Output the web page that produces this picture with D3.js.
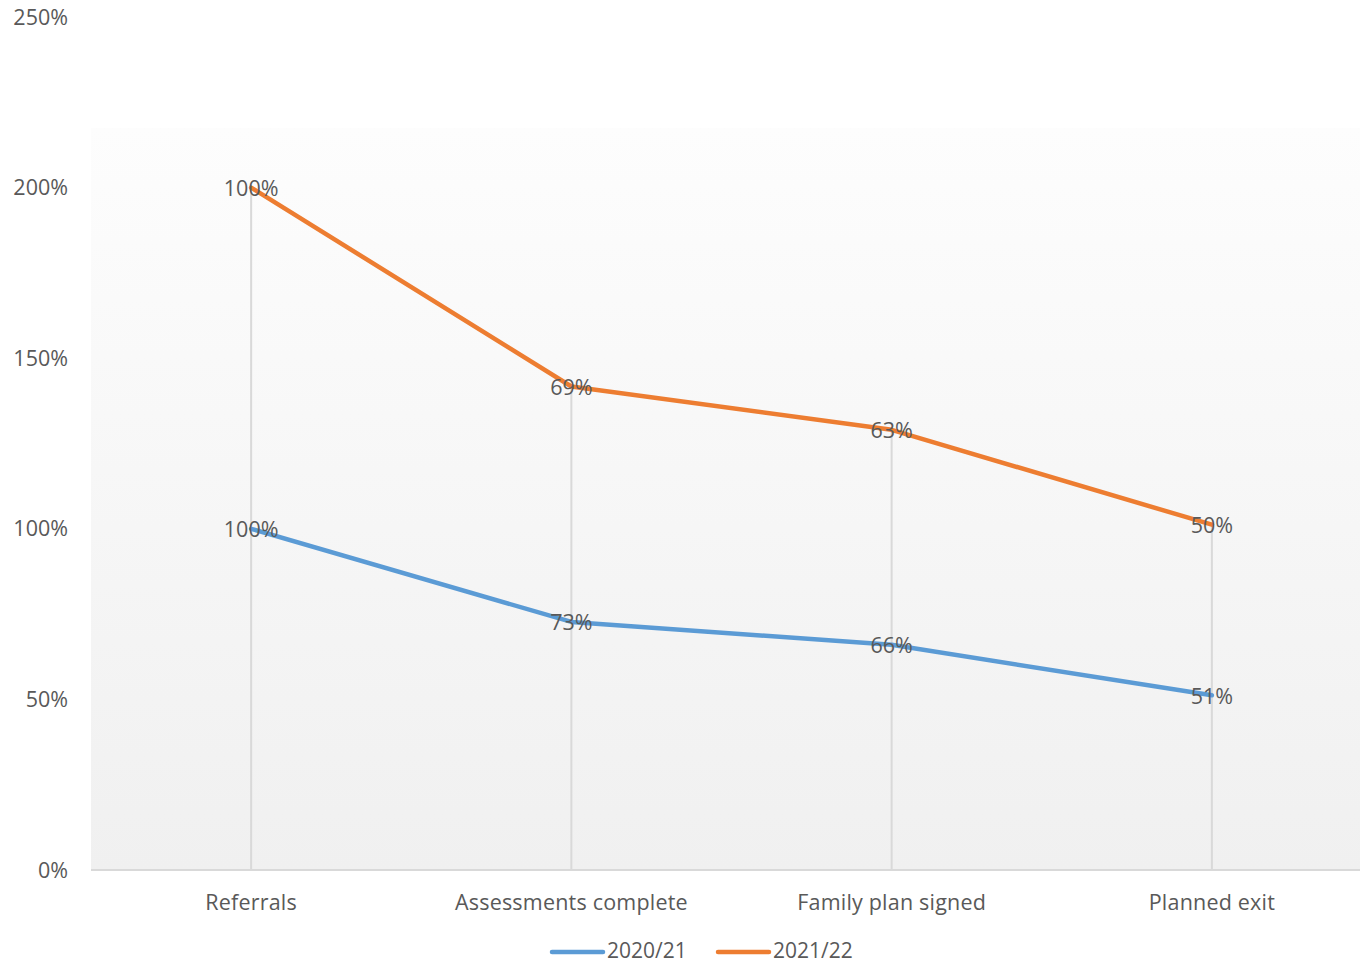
<!DOCTYPE html>
<html><head><meta charset="utf-8">
<script src="https://cdn.jsdelivr.net/npm/d3@7"></script>
<style>
html,body{margin:0;padding:0;background:#fff;}
svg text{font-family:"Open Sans","Noto Sans",sans-serif;fill:#595959;}
</style></head>
<body><svg id="c" width="1360" height="966"></svg>
<script>
const categories = ["Referrals","Assessments complete","Family plan signed","Planned exit"];
const series2020 = [100, 72.7, 66, 51.2];
const series2021 = [100, 69, 63, 50];
const labels2020 = ["100%","73%","66%","51%"];
const labels2021 = ["100%","69%","63%","50%"];
const seriesNames = ["2020/21","2021/22"];
const seriesColors = ["#5b9bd5","#ed7d31"];
const yTicks = [0,50,100,150,200,250];

const svg = d3.select("#c");
const plotL = 91, plotR = 1372, plotRight = 1360;
const FS = 21.5;
const y = d3.scaleLinear().domain([0,250]).range([870,17]);
const x = d3.scaleBand().domain(categories).range([plotL, plotR]);
const cx = d => x(d) + x.bandwidth()/2;

// gradient panel
const defs = svg.append("defs");
const g = defs.append("linearGradient").attr("id","bg").attr("x1",0).attr("y1",0).attr("x2",0).attr("y2",1);
g.append("stop").attr("offset","0%").attr("stop-color","#fdfdfd");
g.append("stop").attr("offset","100%").attr("stop-color","#f0f0f0");
svg.append("rect").attr("x",plotL).attr("y",128).attr("width",plotRight-plotL).attr("height",870-128).attr("fill","url(#bg)");

// stacked totals
const stacked1 = series2020;
const stacked2 = series2020.map((v,i)=>v+series2021[i]);

// drop lines
svg.selectAll(".drop").data(categories).enter().append("line")
  .attr("x1",d=>cx(d)).attr("x2",d=>cx(d))
  .attr("y1",(d,i)=>y(stacked2[i])).attr("y2",y(0))
  .attr("stroke","#d9d9d9").attr("stroke-width",2);

// baseline
svg.append("line").attr("x1",plotL).attr("x2",plotRight).attr("y1",y(0)).attr("y2",y(0))
  .attr("stroke","#d9d9d9").attr("stroke-width",2);

// y axis labels
svg.selectAll(".yt").data(yTicks).enter().append("text")
  .attr("x",68).attr("y",d=>y(d)).attr("dy","0.35em").attr("text-anchor","end")
  .attr("font-size",FS).text(d=>d+"%");

// x labels
svg.selectAll(".xt").data(categories).enter().append("text")
  .attr("x",d=>cx(d)).attr("y",902).attr("dy","0.35em").attr("text-anchor","middle")
  .attr("font-size",FS).attr("letter-spacing","0.2").text(d=>d);

const line = d3.line().x((d,i)=>cx(categories[i])).y(d=>y(d));
[stacked1, stacked2].forEach((s,k)=>{
  svg.append("path").datum(s).attr("d",line).attr("fill","none")
    .attr("stroke",seriesColors[k]).attr("stroke-width",4.5).attr("stroke-linecap","round").attr("stroke-linejoin","round");
});
// data labels
[[stacked1,labels2020],[stacked2,labels2021]].forEach(([s,l])=>{
  svg.selectAll(null).data(s).enter().append("text")
    .attr("x",(d,i)=>cx(categories[i])).attr("y",d=>y(d)+1).attr("dy","0.35em")
    .attr("text-anchor","middle").attr("font-size",FS).text((d,i)=>l[i]);
});

// legend
const leg = [{x:552,name:seriesNames[0],c:seriesColors[0]},{x:718,name:seriesNames[1],c:seriesColors[1]}];
leg.forEach(o=>{
  svg.append("line").attr("x1",o.x).attr("x2",o.x+51).attr("y1",952).attr("y2",952)
    .attr("stroke",o.c).attr("stroke-width",4.5).attr("stroke-linecap","round");
  svg.append("text").attr("x",o.x+55).attr("y",951).attr("dy","0.35em").attr("font-size",21).text(o.name);
});
</script></body></html>
